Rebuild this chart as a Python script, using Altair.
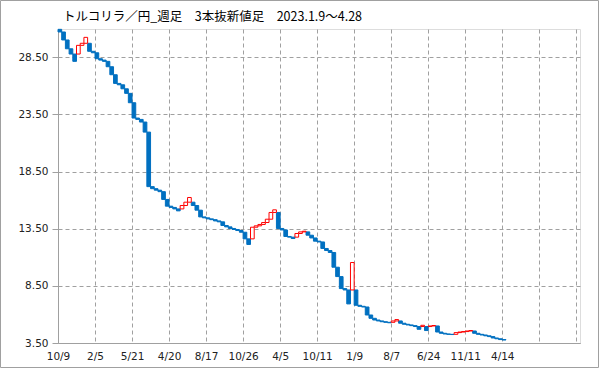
import altair as alt
import pandas as pd

# ---- data ----
title_text = "トルコリラ／円_週足　3本抜新値足　2023.1.9～4.28"
tick_labels = ["10/9", "2/5", "5/21", "4/20", "8/17", "10/26", "4/5", "10/11",
               "1/9", "8/7", "6/24", "11/11", "4/14"]
y_ticks = [3.5, 8.5, 13.5, 18.5, 23.5, 28.5]
first_open = 30.94
closes = [
    30.71, 30.01, 29.24, 28.78, 28.14, 29.54, 29.72, 30.24, 29.02, 28.89,
    28.37, 28.25, 28.14, 27.67, 26.97, 26.21, 26.09, 25.74, 25.34, 24.52,
    23.18, 23.06, 22.83, 21.95, 17.18, 17.00, 16.87, 16.74, 16.06, 15.47,
    15.36, 15.23, 15.06, 15.53, 15.82, 16.23, 15.53, 15.12, 14.53, 14.45,
    14.36, 14.29, 14.18, 14.10, 13.78, 13.66, 13.52, 13.43, 13.34, 13.19,
    12.61, 12.12, 13.63, 13.75, 13.87, 14.04, 14.33, 14.92, 15.15, 13.52,
    13.39, 12.82, 12.76, 12.64, 13.08, 13.22, 13.28, 12.93, 12.69, 12.41,
    12.34, 11.77, 11.59, 11.42, 10.13, 9.31, 8.26, 8.14, 6.92, 10.54,
    6.80, 6.71, 6.65, 5.95, 5.66, 5.51, 5.43, 5.36, 5.31, 5.27,
    5.43, 5.55, 5.23, 5.14, 5.08, 5.02, 4.94, 4.70, 5.05, 4.59,
    4.99, 5.03, 4.46, 4.35, 4.29, 4.26, 4.24, 4.41, 4.46, 4.50,
    4.55, 4.59, 4.35, 4.26, 4.20, 4.13, 4.06, 3.94, 3.87, 3.80,
    3.76,
]

# build bars with the line-break rule: continuation starts at previous close,
# reversal starts at previous open
rows = []
prev_open, prev_close, prev_up = first_open, None, None
for i, c in enumerate(closes):
    if i == 0:
        o = first_open
        up = c > o
    else:
        up = c > prev_close
        o = prev_close if up == prev_up else prev_open
    rows.append({"i": i, "i2": i + 1, "open": o, "close": c, "up": up})
    prev_open, prev_close, prev_up = o, c, up
df = pd.DataFrame(rows)

BLUE = "#0070C0"
RED = "#FF0000"
GRID = "#A0A0A0"

label_js = "[" + ",".join("'" + t + "'" for t in tick_labels) + "]"
x_scale = alt.Scale(domain=[0, 141], nice=False, zero=False)
y_scale = alt.Scale(domain=[3.5, 30.97], nice=False, zero=False)

x_axis = alt.Axis(
    values=list(range(0, 141, 10)),
    labelExpr=label_js + "[round(datum.value/10)] || ''",
    title=None, grid=True, gridDash=[4, 3], gridColor=GRID,
    ticks=False, domainColor=GRID, labelFont="DejaVu Sans",
    labelFontSize=10.5, labelColor="#222", labelPadding=8, labelFlush=False,
    labelOverlap=False, labelBound=False, labelSeparation=0,
)
y_axis = alt.Axis(
    values=y_ticks, format=".2f", title=None, grid=True, gridDash=[4, 3],
    gridColor=GRID, tickColor=GRID, tickSize=6, domainColor=GRID,
    labelFont="DejaVu Sans", labelFontSize=10.5, labelColor="#222",
    labelPadding=4, labelOverlap=False,
)

base = alt.Chart(df).encode(
    x=alt.X("i:Q", scale=x_scale, axis=x_axis),
    x2="i2:Q",
    y=alt.Y("open:Q", scale=y_scale, axis=y_axis),
    y2="close:Q",
)
down = base.transform_filter("!datum.up").mark_rect(
    fill=BLUE, stroke=BLUE, strokeWidth=1
)
upb = base.transform_filter("datum.up").mark_rect(
    fill="white", stroke=RED, strokeWidth=1
)

frame = alt.Chart(pd.DataFrame({"a": [0]})).mark_rect(
    fill=None, stroke=GRID, strokeWidth=1
).encode(
    x=alt.value(-57.5), x2=alt.value(540.5), y=alt.value(-28.5), y2=alt.value(338.5)
)

title_mark = alt.Chart(pd.DataFrame({"t": [title_text]})).mark_text(
    align="left", baseline="alphabetic", fontSize=12.5,
    font="Noto Sans CJK JP", color="#000",
).encode(text="t:N", x=alt.value(5), y=alt.value(-8))

chart = alt.layer(down, upb, frame, title_mark).properties(
    width=522, height=314,
    padding={"left": 58, "top": 29, "right": 19, "bottom": 26},
    autosize=alt.AutoSizeParams(type="none"),
).configure_view(stroke=GRID, strokeWidth=1).configure(background="white")

chart.save("out.html", embed_options={"renderer": "svg", "actions": False})
